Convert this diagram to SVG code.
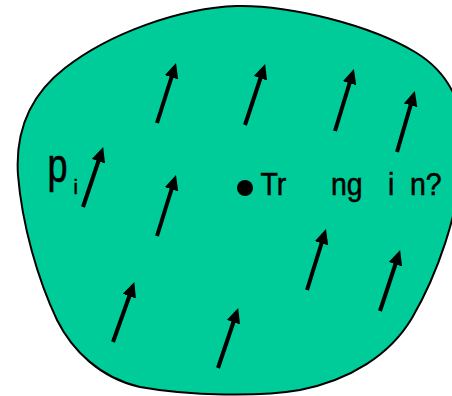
<svg xmlns="http://www.w3.org/2000/svg" width="452" height="396" viewBox="0 0 452 396">
<style>
.region{fill:#00CC99;stroke:#000;stroke-width:2}
.arrow{stroke:#000;stroke-width:4;fill:none;marker-end:url(#head)}
.t{font-family:"Liberation Sans",Arial,sans-serif;fill:#000;stroke:#000;stroke-width:0.5}
</style>
<defs>
<marker id="head" viewBox="0 0 15 14" refX="5" refY="7" markerWidth="15" markerHeight="14" markerUnits="userSpaceOnUse" orient="auto">
<path d="M0,0 L15,7 L0,14 Z" fill="#000"/>
</marker>
</defs>
<g id="region">
<path class="region" d="M237,6 C290,5 370,25 415,52 C450,73 470,110 462,170 C456,215 440,270 412,318 C390,355 350,380 300,390 C260,397 190,396 140,387 C100,378 72,350 57,320 C38,280 22,225 18,175 C15,130 30,95 65,68 C110,33 180,8 237,6 Z"/>
</g>
<g id="connectors">
<line class="arrow" x1="157" y1="123" x2="173" y2="72.5"/>
<line class="arrow" x1="245" y1="125" x2="262" y2="73.5"/>
<line class="arrow" x1="335" y1="131" x2="351" y2="78.5"/>
<line class="arrow" x1="397" y1="152" x2="412" y2="100.5"/>
<line class="arrow" x1="83" y1="207" x2="100" y2="156.5"/>
<line class="arrow" x1="157" y1="236" x2="173" y2="184.5"/>
<line class="arrow" x1="307" y1="290" x2="323" y2="238.5"/>
<line class="arrow" x1="380" y1="311" x2="397" y2="259.5"/>
<line class="arrow" x1="113" y1="342" x2="131" y2="291.5"/>
<line class="arrow" x1="218" y1="368" x2="235" y2="317.5"/>
</g>
<g id="point">
<circle cx="245" cy="188" r="8" fill="#000"/>
<text class="t" font-size="28.5" transform="translate(0,195) scale(1,1.1)"><tspan x="260.5" y="0">Tr</tspan><tspan x="331" y="0">ng</tspan><tspan x="388" y="0">i</tspan><tspan x="410" y="0">n?</tspan></text>
</g>
<g id="label-pi">
<text class="t" font-size="36" transform="translate(47.5,182) scale(1,1.36)">p</text>
<text class="t" font-size="20" x="73.5" y="194">i</text>
</g>
</svg>
